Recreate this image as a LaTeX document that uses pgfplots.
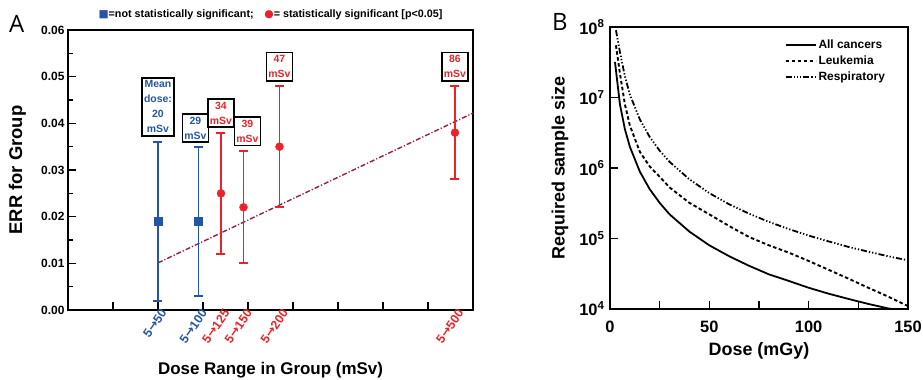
\documentclass[border=0pt]{standalone}
\usepackage{pgfplots}
\pgfplotsset{compat=1.18}
\usepackage{fontspec}
\setmainfont{Liberation Sans}
\newfontfamily\symfont{DejaVu Sans}
\newfontfamily\panelfont{Open Sans}
\definecolor{sigblue}{RGB}{38,84,164}
\definecolor{sigred}{RGB}{232,36,42}
\definecolor{fitline}{RGB}{150,28,78}
\newcommand{\fs}[1]{\bfseries\fontsize{#1}{#1}\selectfont}
\newcommand{\ar}{{\symfont\bfseries →}}
\begin{document}
\begin{tikzpicture}
\useasboundingbox (0bp,0bp) rectangle (923bp,380bp);
\node[anchor=base west, inner sep=0pt, font=\panelfont\fontsize{24}{24}\selectfont] at (9bp,347bp) {A};
\node[anchor=base west, inner sep=0pt, font=\panelfont\fontsize{24}{24}\selectfont] at (552bp,349bp) {B};

% ---------------- Panel A ----------------
\begin{axis}[
  at={(68bp,70bp)}, anchor=south west, scale only axis,
  width=405bp, height=280bp,
  xmin=0, xmax=90, ymin=0, ymax=0.06,
  axis line style={line width=1.8bp},
  tick pos=left, tick align=inside,
  major tick length=8bp, minor tick length=5bp,
  every tick/.style={black, line width=1.3bp},
  xtick={10,20,30,40,50,60,70,80}, xticklabels={},
  extra x ticks={20,29,34,39,47,86},
  extra x tick labels={\textcolor{sigblue}{5\ar50},\textcolor{sigblue}{5\ar100},\textcolor{sigred}{5\ar125},\textcolor{sigred}{5\ar150},\textcolor{sigred}{5\ar200},\textcolor{sigred}{5\ar500}},
  extra x tick style={major tick length=0pt, xticklabel style={rotate=55, anchor=east, inner sep=1bp, yshift=-5bp, xshift=4bp, font=\fs{12.5}}},
  ytick={0,0.01,0.02,0.03,0.04,0.05,0.06},
  minor y tick num=1,
  scaled y ticks=false,
  /pgf/number format/assume math mode=true,
  yticklabel style={/pgf/number format/fixed, /pgf/number format/fixed zerofill, /pgf/number format/precision=2},
  tick label style={font=\fs{12}},
  ylabel={ERR for Group},
  ylabel style={font=\fs{18.5}, at={(axis description cs:-0.125,0.5)}, anchor=center},
  xlabel={Dose Range in Group (mSv)},
  xlabel style={font=\fs{17}, at={(axis description cs:0.5,-0.215)}, anchor=center},
  error bars/error mark options={rotate=90, mark size=4.5bp, line width=1.8bp, solid},
  clip=false,
]
\addplot[color=fitline, line width=1.4bp, dash pattern=on 5bp off 2bp on 1.2bp off 2bp] coordinates {(20,0.0101) (90,0.0422)};
\addplot[only marks, mark=square*, mark size=4bp, color=sigblue,
  error bars/.cd, y dir=both, y explicit,
  error bar style={draw=sigblue, line width=1.8bp, solid}]
  coordinates {(20,0.019) +- (0,0.017) (29,0.019) +- (0,0.016)};
\addplot[only marks, mark=*, mark size=4bp, color=sigred,
  error bars/.cd, y dir=both, y explicit,
  error bar style={draw=sigred, line width=1.8bp, solid}]
  coordinates {(34,0.025) +- (0,0.013) (39,0.022) +- (0,0.012) (47,0.035) +- (0,0.013) (86,0.038) +- (0,0.010)};
\tikzset{dbox/.style={draw=black, fill=white, line width=1.6bp, anchor=south, inner xsep=2bp, inner ysep=3bp, align=center, font=\fs{10.5}, execute at begin node={\baselineskip=15bp}}}
\node[dbox, text=sigblue] at (axis cs:20,0.0371) {Mean\\dose:\\20\\mSv};
\node[dbox, text=sigblue, xshift=-3bp] at (axis cs:29,0.0358) {29\\mSv};
\node[dbox, text=sigred] at (axis cs:34,0.0390) {34\\mSv};
\node[dbox, text=sigred, xshift=4bp] at (axis cs:39,0.0351) {39\\mSv};
\node[dbox, text=sigred] at (axis cs:47,0.0489) {47\\mSv};
\node[dbox, text=sigred] at (axis cs:86,0.0489) {86\\mSv};
\node[font=\fs{10.8}, anchor=center] at (axis description cs:0.5,1.053) {\textcolor{sigblue}{\symfont ■}=not statistically significant;\quad\textcolor{sigred}{\symfont ●}= statistically significant [p<0.05]};
\end{axis}

% ---------------- Panel B ----------------
\begin{axis}[
  at={(610bp,71bp)}, anchor=south west, scale only axis,
  width=298bp, height=282bp,
  xmin=0, xmax=150, ymode=log, ymin=1e4, ymax=1e8,
  axis line style={line width=2bp},
  tick pos=left, tick align=inside,
  major tick length=8bp, minor tick length=8bp,
  every tick/.style={black, line width=1.3bp},
  xtick={0,50,100,150}, minor xtick={25,75,125},
  ytick={1e4,1e5,1e6,1e7,1e8},
  yticklabels={10\textsuperscript{4},10\textsuperscript{5},10\textsuperscript{6},10\textsuperscript{7},10\textsuperscript{8}},
  yminorticks=false,
  /pgf/number format/assume math mode=true,
  tick label style={font=\fs{16.5}},
  xticklabel style={yshift=-9bp},
  yticklabel style={xshift=-2bp},
  ylabel={Required sample size},
  ylabel style={font=\fs{18}, at={(axis description cs:-0.168,0.5)}, anchor=center},
  xlabel={Dose (mGy)},
  xlabel style={font=\fs{18}, at={(axis description cs:0.5,-0.15)}, anchor=center},
  legend style={draw=none, fill=none, at={(axis description cs:0.94,0.97)}, anchor=north east, font=\fs{12}, row sep=2bp},
  legend cell align=left,
  legend image code/.code={\draw[#1] (0bp,0bp) -- (30bp,0bp);},
]
\addplot[black, line width=1.8bp] coordinates {
(2.5,3.2e7) (5,8e6) (7.5,3.55e6) (10,2e6) (15,8.9e5) (20,5e5) (25,3.2e5) (30,2.2e5)
(40,1.25e5) (50,8e4) (60,5.6e4) (70,4.1e4) (80,3.1e4) (90,2.5e4) (100,2e4)
(110,1.65e4) (120,1.39e4) (130,1.18e4) (140,1.02e4) (150,8.9e3)};
\addlegendentry{All cancers}
\addplot[black, line width=1.9bp, dash pattern=on 3.5bp off 2.5bp] coordinates {
(3,5.5e7) (5,2.2e7) (7.5,8e6) (10,4e6) (15,1.7e6) (20,1.05e6) (25,7.5e5) (30,5.3e5)
(40,3.2e5) (50,2.2e5) (60,1.5e5) (70,1.05e5) (80,8e4) (90,6.3e4) (100,4.8e4)
(110,3.6e4) (120,2.7e4) (130,2e4) (140,1.5e4) (150,1.1e4)};
\addlegendentry{Leukemia}
\addplot[black, line width=1.8bp, dash pattern=on 6bp off 2bp on 1.3bp off 2bp on 1.3bp off 2bp on 1.3bp off 2bp] coordinates {
(3,9e7) (5,4.4e7) (7.5,2e7) (10,1.1e7) (15,4.9e6) (20,2.75e6) (25,1.76e6) (30,1.22e6)
(40,6.9e5) (50,4.4e5) (60,3.05e5) (70,2.25e5) (80,1.72e5) (90,1.36e5) (100,1.1e5)
(110,9.1e4) (120,7.6e4) (130,6.5e4) (140,5.6e4) (150,4.9e4)};
\addlegendentry{Respiratory}
\end{axis}
\end{tikzpicture}
\end{document}
